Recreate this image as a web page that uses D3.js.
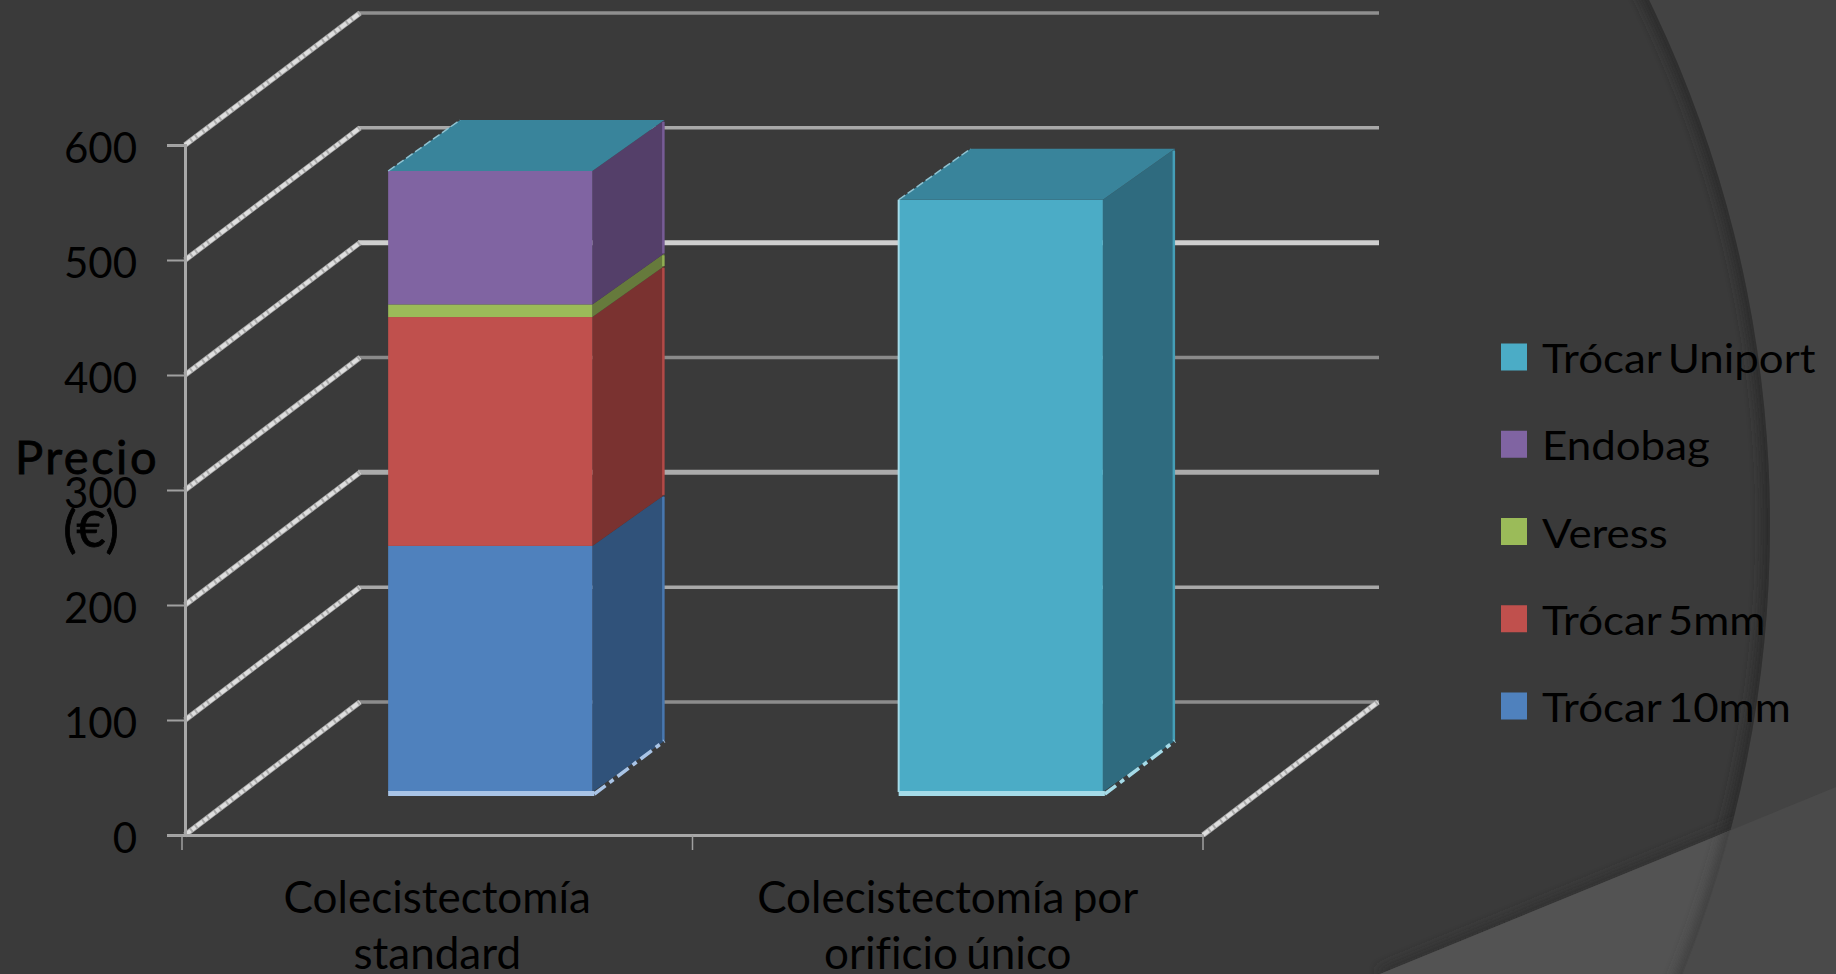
<!DOCTYPE html>
<html>
<head>
<meta charset="utf-8">
<script src="https://cdn.jsdelivr.net/npm/d3@7"></script>
<style>
  html, body { margin: 0; padding: 0; background: #3a3a3a; overflow: hidden; }
  svg { display: block; }
  text { font-family: Lato, "Open Sans", sans-serif; fill: #000; font-variant-ligatures: none; }
</style>
</head>
<body>
<script>
const WIDTH  = 1836;
const HEIGHT = 974;

// Chart values
const categories = ["Colecistectomía standard", "Colecistectomía por orificio único"];
const categoryLines = [["Colecistectomía", "standard"], ["Colecistectomía por", "orificio único"]];
const seriesNames = ["Trócar 10mm", "Trócar 5mm", "Veress", "Endobag", "Trócar Uniport"];
const trocar10 = [214, 0];
const trocar5  = [199, 0];
const veress   = [11, 0];
const endobag  = [116, 0];
const uniport  = [0, 515];
const yTicks   = [0, 100, 200, 300, 400, 500, 600];

// Face colours per series, same order as seriesNames
const frontColors = ["#4f81bd", "#c0504d", "#9bbb59", "#8064a2", "#4bacc6"];
const sideColors  = ["#30527a", "#7a3230", "#667a3c", "#543f69", "#2f6b7f"];
const baseColors  = ["#a9c4e6", "#e0a8a6", "#cfe0a8", "#bfaed4", "#a5dbe8"];
const topColor    = "#39849b";

// Each back wall line has its own tone and weight
const gridTones  = ["#8c8c8c", "#a8a8a8", "#ababab", "#8a8a8a", "#cfcfcf", "#a8a8a8", "#8f8f8f"];
const gridWidths = [3.5, 3.5, 5, 3.5, 5, 3.5, 3.5];

// Wall depth and box depth of the fake 3D projection
const WALL_DX = 175;
const BAR_SHIFT_X = 53, BAR_SHIFT_Y = -43;
const BOX_DX = 72, BOX_DY = -51;

const svg = d3.select("body").append("svg")
  .attr("width", WIDTH)
  .attr("height", HEIGHT);

const line = d3.line();

function drawBackground() {
  const defs = svg.append("defs");
  defs.append("filter").attr("id", "soft").append("feGaussianBlur").attr("stdDeviation", 6);

  const CX = 570, CY = 525, R = 1200;
  const bandPath = "M1380,974 Q1610,880 1836,787 L1836,974 Z";

  defs.append("clipPath").attr("id", "inCircle")
    .append("circle").attr("cx", CX).attr("cy", CY).attr("r", R);
  defs.append("clipPath").attr("id", "inBand")
    .append("path").attr("d", bandPath);

  svg.append("rect").attr("width", WIDTH).attr("height", HEIGHT).attr("fill", "#434343");

  const inner = svg.append("g").attr("clip-path", "url(#inCircle)");
  inner.append("rect").attr("width", WIDTH).attr("height", HEIGHT).attr("fill", "#3a3a3a");
  inner.append("circle")
    .attr("cx", CX).attr("cy", CY).attr("r", R)
    .attr("fill", "none").attr("stroke", "#2b2b2b").attr("stroke-width", 14)
    .attr("filter", "url(#soft)");
  inner.append("path")
    .attr("d", "M1380,974 Q1610,880 1836,787")
    .attr("fill", "none").attr("stroke", "#2f2f2f").attr("stroke-width", 8)
    .attr("filter", "url(#soft)");

  // Lighter band in the lower right corner
  svg.append("path").attr("d", bandPath).attr("fill", "#4a4a4a");
  const bandInner = svg.append("g").attr("clip-path", "url(#inBand)")
    .append("g").attr("clip-path", "url(#inCircle)");
  bandInner.append("rect").attr("width", WIDTH).attr("height", HEIGHT).attr("fill", "#535353");
  bandInner.append("circle")
    .attr("cx", CX).attr("cy", CY).attr("r", R)
    .attr("fill", "none").attr("stroke", "#3e3e3e").attr("stroke-width", 12)
    .attr("filter", "url(#soft)");
}

function setScale() {
  const xScale = d3.scaleBand().domain(categories).range([182, 1203]);
  const yScale = d3.scaleLinear().domain([0, 600]).range([835, 145]);
  // The back wall is a little shorter than the front plane
  const yBack  = d3.scaleLinear().domain([0, 600]).range([702, 13]);
  return [xScale, yScale, yBack];
}

function drawWalls(xScale, yScale, yBack) {
  const left = xScale.range()[0] + 3;
  const right = xScale.range()[1];

  // Lines on the back wall
  svg.append("g").selectAll("line")
    .data(yTicks)
    .enter().append("line")
      .attr("x1", left + WALL_DX - 2)
      .attr("x2", right + WALL_DX + 1)
      .attr("y1", d => yBack(d))
      .attr("y2", d => yBack(d))
      .attr("stroke", (d, i) => gridTones[i])
      .attr("stroke-width", (d, i) => gridWidths[i]);

  // Rough diagonals on the side wall, plus one along the floor's right edge
  const diagonals = yTicks.map(d => [[left, yScale(d)], [left + WALL_DX, yBack(d)]]);
  diagonals.push([[right, yScale(0)], [right + WALL_DX, yBack(0)]]);
  const diag = svg.append("g").attr("fill", "none");
  diag.selectAll("path.under")
    .data(diagonals)
    .enter().append("path").attr("class", "under")
      .attr("d", line)
      .attr("stroke", "#a9a9a9")
      .attr("stroke-width", 5.5);
  diag.selectAll("path.over")
    .data(diagonals)
    .enter().append("path").attr("class", "over")
      .attr("d", line)
      .attr("stroke", "#dedede")
      .attr("stroke-width", 4)
      .attr("stroke-dasharray", "7 2 4 2");
}

function drawBars(xScale, yScale) {
  const table = categories.map((c, i) => ({
    category: c,
    [seriesNames[0]]: trocar10[i],
    [seriesNames[1]]: trocar5[i],
    [seriesNames[2]]: veress[i],
    [seriesNames[3]]: endobag[i],
    [seriesNames[4]]: uniport[i]
  }));
  const stacked = d3.stack().keys(seriesNames)(table);
  const barWidth = xScale.bandwidth() * 0.4;
  const barLeft = d => xScale(d.data.category) + (xScale.bandwidth() - barWidth) / 2 + BAR_SHIFT_X;
  const py = v => yScale(v) + BAR_SHIFT_Y;

  const groups = svg.append("g").selectAll("g")
    .data(stacked)
    .enter().append("g");

  // Base strip and its lower side edge, in the colour of the lowest visible segment
  table.forEach((row, i) => {
    const s = stacked.findIndex(layer => layer[i][1] > layer[i][0]);
    const bx = barLeft(stacked[s][i]);
    svg.append("rect")
      .attr("x", bx).attr("y", py(0) - 1)
      .attr("width", barWidth + 2).attr("height", 5)
      .attr("fill", baseColors[s]);
    svg.append("path")
      .attr("d", line([[bx + barWidth + 2, py(0) + 2], [bx + barWidth + BOX_DX, py(0) + BOX_DY]]))
      .attr("stroke", baseColors[s]).attr("stroke-width", 3.5)
      .attr("stroke-dasharray", "14 5 5 5");
  });

  // Side faces
  groups.each(function (layer, s) {
    const g = d3.select(this);
    g.selectAll("path.side")
      .data(layer.filter(d => d[1] > d[0]))
      .enter().append("path").attr("class", "side")
        .attr("d", d => {
          const xr = barLeft(d) + barWidth;
          return line([[xr, py(d[0])], [xr + BOX_DX, py(d[0]) + BOX_DY],
                       [xr + BOX_DX, py(d[1]) + BOX_DY], [xr, py(d[1])]]) + "Z";
        })
        .attr("fill", sideColors[s]);
    // Thin lit strip along the rear edge of the side face
    g.selectAll("line.rear")
      .data(layer.filter(d => d[1] > d[0]))
      .enter().append("line").attr("class", "rear")
        .attr("x1", d => barLeft(d) + barWidth + BOX_DX - 1)
        .attr("x2", d => barLeft(d) + barWidth + BOX_DX - 1)
        .attr("y1", d => py(d[0]) + BOX_DY)
        .attr("y2", d => py(d[1]) + BOX_DY + 2)
        .attr("stroke", frontColors[s])
        .attr("stroke-width", 2.5)
        .attr("opacity", 0.8);
    // Front faces
    g.selectAll("rect.front")
      .data(layer.filter(d => d[1] > d[0]))
      .enter().append("rect").attr("class", "front")
        .attr("x", barLeft)
        .attr("y", d => py(d[1]))
        .attr("width", barWidth)
        .attr("height", d => py(d[0]) - py(d[1]))
        .attr("fill", frontColors[s]);
  });

  // Top face of each stack, coloured by the last series even when its value is zero
  const last = stacked[stacked.length - 1];
  svg.append("g").selectAll("path")
    .data(last)
    .enter().append("path")
      .attr("d", d => {
        const xl = barLeft(d), xr = xl + barWidth, y = py(d[1]);
        return line([[xl, y], [xl + BOX_DX, y + BOX_DY], [xr + BOX_DX, y + BOX_DY], [xr, y]]) + "Z";
      })
      .attr("fill", topColor);

  // Light edges of the uniport box
  const lit = last.filter(d => d[1] > d[0]);
  svg.append("g").selectAll("line")
    .data(lit)
    .enter().append("line")
      .attr("x1", d => barLeft(d)).attr("x2", d => barLeft(d))
      .attr("y1", d => py(d[1])).attr("y2", d => py(d[0]))
      .attr("stroke", baseColors[4]).attr("stroke-width", 2);
  svg.append("g").selectAll("line")
    .data(last)
    .enter().append("line")
      .attr("x1", d => barLeft(d)).attr("x2", d => barLeft(d) + BOX_DX)
      .attr("y1", d => py(d[1])).attr("y2", d => py(d[1]) + BOX_DY)
      .attr("stroke", "#8fc3d2").attr("stroke-width", 1.5)
      .attr("stroke-dasharray", "8 3");
}

function addAxis(xScale, yScale) {
  const yAxis = d3.axisLeft(yScale).tickValues(yTicks).tickSize(18).tickPadding(30);
  const yG = svg.append("g")
    .attr("transform", "translate(185,0)")
    .call(yAxis);
  yG.select(".domain").attr("stroke", "#a8a8a8").attr("stroke-width", 3);
  yG.selectAll(".tick line").attr("stroke", "#a0a0a0").attr("stroke-width", 2);
  yG.selectAll(".tick text")
    .style("font-size", "42px")
    .attr("dy", "0.41em");

  const xAxis = d3.axisBottom(xScale).tickSize(0).tickFormat("");
  const xG = svg.append("g")
    .attr("transform", "translate(0," + yScale(0) + ")")
    .call(xAxis);
  xG.select(".domain").attr("stroke", "#a8a8a8").attr("stroke-width", 3);

  // Ticks sit between the categories
  const edges = categories.map(c => xScale(c)).concat(xScale.range()[1]);
  svg.append("g").selectAll("line")
    .data(edges)
    .enter().append("line")
      .attr("x1", d => d).attr("x2", d => d)
      .attr("y1", yScale(0)).attr("y2", yScale(0) + 15)
      .attr("stroke", "#a0a0a0").attr("stroke-width", 1.5);

  // Two line category labels
  const labels = svg.append("g").selectAll("text")
    .data(categories)
    .enter().append("text")
      .attr("text-anchor", "middle")
      .attr("word-spacing", "-3px")
      .style("font-size", "44px");
  labels.each(function (c, i) {
    d3.select(this).selectAll("tspan")
      .data(categoryLines[i])
      .enter().append("tspan")
        .attr("x", xScale(c) + xScale.bandwidth() / 2)
        .attr("y", (d, j) => 913 + j * 56)
        .text(d => d);
  });

  // Axis title, laid over the 300 tick; regular weight thickened a little
  svg.append("text")
    .attr("x", 87).attr("y", 474)
    .attr("text-anchor", "middle")
    .attr("stroke", "#000").attr("stroke-width", 0.8)
    .style("font-size", "47px")
    .style("letter-spacing", "2.5px")
    .text("Precio");
  svg.append("text")
    .attr("x", 91).attr("y", 547)
    .attr("text-anchor", "middle")
    .attr("stroke", "#000").attr("stroke-width", 0.8)
    .style("font-size", "50px")
    .text("(€)");
}

function drawLegend() {
  // Reverse stacking order, top entry first
  const order = seriesNames.map((d, i) => i).reverse();
  const legendY = d3.scalePoint().domain(order).range([357, 706]);
  const rows = svg.append("g").selectAll("g")
    .data(order)
    .enter().append("g")
      .attr("transform", d => "translate(1501," + legendY(d) + ")");
  rows.append("rect")
    .attr("y", -13.5).attr("width", 26).attr("height", 27)
    .attr("fill", d => frontColors[d]);
  rows.append("text")
    .attr("transform", "translate(41,16) scale(1.07,1)")
    .attr("word-spacing", "-4px")
    .style("font-size", "41px")
    .text(d => seriesNames[d]);
}

drawBackground();
let xScale, yScale, yBack;
[xScale, yScale, yBack] = setScale();
drawWalls(xScale, yScale, yBack);
drawBars(xScale, yScale);
addAxis(xScale, yScale);
drawLegend();
</script>
</body>
</html>
